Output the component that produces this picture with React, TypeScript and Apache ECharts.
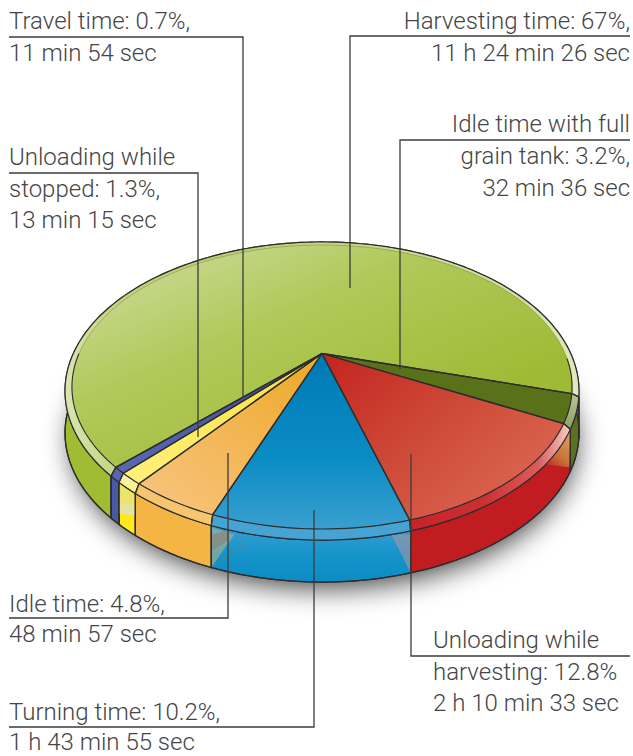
import React, { useEffect, useRef } from "react";
import * as echarts from "echarts";

const sliceNames = ["Turning time", "Idle time", "Unloading while stopped", "Travel time", "Harvesting time", "Idle time with full grain tank", "Unloading while harvesting"];
const sliceValues = [10.2, 4.8, 1.3, 0.7, 67, 3.2, 12.8];

const labelTexts = [
  ["Travel time: 0.7%,", "11 min 54 sec"],
  ["Unloading while", "stopped: 1.3%,", "13 min 15 sec"],
  ["Harvesting time: 67%,", "11 h 24 min 26 sec"],
  ["Idle time with full", "grain tank: 3.2%,", "32 min 36 sec"],
  ["Idle time: 4.8%,", "48 min 57 sec"],
  ["Turning time: 10.2%,", "1 h 43 min 55 sec"],
  ["Unloading while", "harvesting: 12.8%", "2 h 10 min 33 sec"],
];

const W = 633, H = 756;
const APEX_X = 322, APEX_Y = 353.5, DEPTH = 42, START = 16.2;
const INNER = { A: 134.1, k: 0.236, B: 243 };
const OUTER = { A: 139.6, k: 0.2517, B: 248.7 };
const LINE = "#2e2e2e";
const TEXT_FONT = '300 24px Roboto';
const TEXT_COLOR = "#454545";

const labelLayout = [
  { x: 9, align: "left", base: [29, 61] },
  { x: 9, align: "left", base: [165, 197, 228] },
  { x: 630, align: "right", base: [29, 61] },
  { x: 630, align: "right", base: [132, 164, 196] },
  { x: 9, align: "left", base: [612, 642] },
  { x: 9, align: "left", base: [720, 750] },
  { x: 433, align: "left", base: [648, 680, 711] },
];
const leaders = [
  [[9, 37], [243, 37], [243, 398]],
  [[9, 173], [198, 173], [198, 437]],
  [[630, 36], [350, 36], [350, 288]],
  [[630, 140], [400, 140], [400, 369]],
  [[9, 618], [228, 618], [228, 453]],
  [[9, 727], [314, 727], [314, 510]],
  [[630, 656], [411, 656], [411, 454]],
];

const grad = (x: number, y: number, x2: number, y2: number, stops: [number, string][]) =>
  new echarts.graphic.LinearGradient(x, y, x2, y2, stops.map(([offset, color]) => ({ offset, color })));

const topFills = () => [
  grad(0.5, 0, 0.5, 1, [[0, "#0079b4"], [0.6, "#0a8cc4"], [1, "#3a9fd0"]]),
  grad(1, 0, 0, 1, [[0, "#eda826"], [0.5, "#f3b654"], [1, "#f8c683"]]),
  grad(1, 0, 0, 1, [[0, "#fbe13a"], [1, "#fff07c"]]),
  grad(1, 0, 0, 1, [[0, "#3d4a9a"], [1, "#5a69b0"]]),
  grad(0.05, 0.05, 0.75, 0.75, [[0, "#cfdc9e"], [0.45, "#b0c95a"], [1, "#9fbb35"]]),
  "#597119",
  grad(0, 0, 1, 0.8, [[0, "#c3241f"], [0.5, "#ce4a38"], [1, "#dc6a55"]]),
];
const bandFills = () => [
  "#47a3d3",
  "#f7c46f",
  grad(0, 0, 0, 1, [[0, "#f4f1b8"], [1, "#fff27a"]]),
  "#5766ae",
  grad(0, 0, 1, 0, [[0, "#dbe4b0"], [0.1, "#c3d480"], [0.3, "#bbcf70"], [0.9, "#d5dfa4"], [1, "#e3e9ba"]]),
  grad(0, 0, 0, 1, [[0, "#b9c49a"], [1, "#8e9f62"]]),
  grad(0, 0, 1, 0, [[0, "#c8222a"], [0.45, "#cc2f30"], [0.8, "#dc5c5c"], [1, "#f6d0c4"]]),
];
const wallFills = () => [
  grad(0, 0, 0, 1, [[0, "#3a9fd2"], [0.5, "#1594ca"], [1, "#0b8cc4"]]),
  "#f5b545",
  "#ffe81c",
  "#4a59a6",
  "#a0bc33",
  "#5a7120",
  "#c11c20",
];

type Rim = { A: number; k: number; B: number; twist?: number };
function rim(theta: number, r: Rim) {
  const adj = theta - (r.twist || 0) * Math.sin((2 * theta * Math.PI) / 180);
  const t = (adj * Math.PI) / 180;
  const s = Math.cos(t), c = Math.sin(t), d = 1 - r.k * s;
  return [APEX_X + (r.B * c) / d, APEX_Y + (r.A * s) / d];
}
const OUTER_RIM: Rim = { ...OUTER, twist: 1 };
function arc(a: number, b: number, r: Rim, dy = 0) {
  const n = Math.max(2, Math.ceil(Math.abs(b - a) / 1.5));
  const pts: number[][] = [];
  for (let i = 0; i <= n; i++) {
    const p = rim(a + ((b - a) * i) / n, r);
    pts.push([p[0], p[1] + dy]);
  }
  return pts;
}
const poly = (points: number[][], style: any, z2: number) => ({ type: "polygon", shape: { points }, style, z2, silent: true });
const pline = (points: number[][], stroke: string, lineWidth: number, z2: number) => ({
  type: "polyline", shape: { points }, style: { stroke, lineWidth, fill: "none" }, z2, silent: true,
});

export default function App() {
  const ref = useRef<HTMLDivElement>(null);
  useEffect(() => {
    const chart = echarts.init(ref.current!, null, { renderer: "svg" });
    const tops = topFills(), bands = bandFills(), walls = wallFills();
    const renderItem = (params: any, api: any) => {
      const i = params.dataIndex;
      let before = 0;
      for (let j = 0; j < i; j++) before += sliceValues[j];
      const a = START - before * 3.6;
      const b = a - api.value(0) * 3.6;
      const children: any[] = [];
      const edge = { stroke: LINE, lineWidth: 1.2 };

      if (i === 0) {
        children.push({
          type: "ellipse",
          shape: { cx: APEX_X, cy: 436, rx: 252, ry: 146 },
          style: { fill: "#222", shadowBlur: 28, shadowColor: "rgba(0,0,0,0.75)", shadowOffsetX: 2, shadowOffsetY: 6 },
          z2: 1, silent: true,
        });
      }

      const outerArc = arc(a, b, OUTER_RIM);
      const lowArc = arc(a, b, OUTER_RIM, DEPTH);
      children.push(poly(outerArc.concat(lowArc.slice().reverse()), { fill: walls[i], ...edge }, 10));

      const ra = rim(a, OUTER_RIM), rb = rim(b, OUTER_RIM);
      if (i === 0) {
        children.push(poly([[ra[0], ra[1] + 3], [ra[0], ra[1] + DEPTH], [ra[0] - 19, ra[1] + 4]], { fill: "rgba(165,150,165,0.6)" }, 11));
        children.push(poly([[rb[0], rb[1] + 2], [rb[0] + 23, rb[1] + 9], [rb[0], rb[1] + DEPTH]], { fill: "rgba(190,180,135,0.55)" }, 11));
      }
      if (i === 1) {
        children.push(poly([[ra[0] + 1, ra[1] + 9], [ra[0] + 18, ra[1] + 4], [ra[0] + 18, ra[1] + 14], [ra[0] + 1, ra[1] + 25]], { fill: "rgba(140,130,115,0.6)" }, 11));
        children.push(pline([[ra[0] + 1, ra[1] + DEPTH - 1], [ra[0] + 36, ra[1] + 18]], "rgba(150,120,60,0.45)", 1, 11));
      }
      if (i === 2) {
        children.push(poly([[rb[0], rb[1] + 2], [ra[0], ra[1] + 2], [ra[0], ra[1] + 22], [rb[0], rb[1] + 31]], { fill: "#e9e46c" }, 11));
        children.push(poly([[rb[0], rb[1] + 31], [ra[0], ra[1] + 22], [ra[0], ra[1] + 12], [rb[0], rb[1] + 20]], { fill: "#e6e3a0" }, 11));
      }
      if (i === 6) {
        children.push(poly([[ra[0], ra[1] + 1], [ra[0] - 1, ra[1] + 38], [ra[0] - 10, ra[1] + 37], [ra[0] - 24, ra[1] + 35]], {
          fill: grad(0.9, 0, 0.4, 1, [[0, "#dca45e"], [0.7, "#c9733a"], [1, "#c1402a"]]),
        }, 11));
      }
      children.push(pline([outerArc[0], lowArc[0]], LINE, 1.2, 12));
      children.push(pline([outerArc[outerArc.length - 1], lowArc[lowArc.length - 1]], LINE, 1.2, 12));
      children.push(pline(lowArc, LINE, 1.3, 12));

      const innerArc = arc(a, b, INNER);
      children.push(poly(outerArc.concat(innerArc.slice().reverse()), { fill: bands[i] }, 20));
      children.push(pline(outerArc, LINE, 1.2, 31));
      children.push(pline([innerArc[0], outerArc[0]], LINE, 1.2, 31));
      children.push(pline([innerArc[innerArc.length - 1], outerArc[outerArc.length - 1]], LINE, 1.2, 31));

      children.push(poly([[APEX_X, APEX_Y], ...innerArc], { fill: tops[i] }, 30));
      children.push(pline([[APEX_X, APEX_Y], innerArc[0]], LINE, 1.3, 32));
      children.push(pline([[APEX_X, APEX_Y], innerArc[innerArc.length - 1]], LINE, 1.3, 32));
      if (i === 4) {
        children.push(pline(arc(a, -90, INNER), LINE, 1.1, 32));
        children.push(pline(arc(-90, b, INNER), "rgba(120,135,80,0.55)", 0.9, 32));
        children.push(pline(arc(b + 14, b, INNER), LINE, 1.1, 32));
      } else {
        children.push(pline(innerArc, LINE, 1.2, 32));
      }
      return { type: "group", children };
    };

    const graphic: any[] = [];
    leaders.forEach((points) => {
      graphic.push({ type: "polyline", shape: { points }, style: { stroke: "#3c3c3c", lineWidth: 1.3, fill: "none" }, z: 50 });
    });
    labelTexts.forEach((lines, li) => {
      const lay = labelLayout[li];
      lines.forEach((text, n) => {
        graphic.push({
          type: "text", z: 51,
          style: { text, x: lay.x, y: lay.base[n] - 8, fill: TEXT_COLOR, font: TEXT_FONT, textAlign: lay.align, textVerticalAlign: "middle" },
        });
      });
    });

    chart.setOption({
      animation: false,
      backgroundColor: "#fff",
      series: [{
        type: "custom",
        coordinateSystem: "none",
        renderItem,
        clip: false,
        silent: true,
        data: sliceValues.map((value, i) => ({ name: sliceNames[i], value: [value] })),
      }],
      graphic,
    });
    return () => chart.dispose();
  }, []);
  return <div ref={ref} style={{ position: "absolute", left: 0, top: 0, width: W, height: H }} />;
}
